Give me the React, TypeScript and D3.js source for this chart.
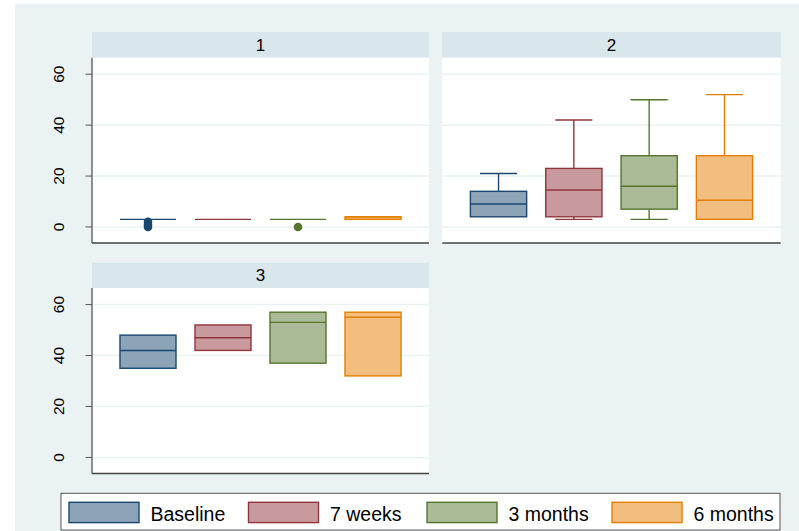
import React from "react";
import * as d3 from "d3";

const categories = ["Baseline", "7 weeks", "3 months", "6 months"];
const panelTitles = ["1", "2", "3"];
const yTicks = [0, 20, 40, 60];

// Panel 1
const p1Low = [3, 3, 3, 3];
const p1Q1 = [3, 3, 3, 3];
const p1Med = [3, 3, 3, 4];
const p1Q3 = [3, 3, 3, 4];
const p1High = [3, 3, 3, 4];
const p1Outliers = [[0, 1, 2], [], [0], []];

// Panel 2
const p2Low = [4, 3, 3, 3];
const p2Q1 = [4, 4, 7, 3];
const p2Med = [9, 14.5, 16, 10.5];
const p2Q3 = [14, 23, 28, 28];
const p2High = [21, 42, 50, 52];
const p2Outliers = [[], [], [], []];

// Panel 3
const p3Low = [35, 42, 37, 32];
const p3Q1 = [35, 42, 37, 32];
const p3Med = [42, 47, 53, 55];
const p3Q3 = [48, 52, 57, 57];
const p3High = [48, 52, 57, 57];
const p3Outliers = [[], [], [], []];

const strokeColors = ["#1a476f", "#90353b", "#55752f", "#e37e00"];
const fillColors = ["#8ca3b8", "#c89a9d", "#abba97", "#f1be80"];

const W = 799;
const H = 531;
const FONT = "'Liberation Sans', Arial, Helvetica, sans-serif";

type PanelDef = {
  title: string;
  x0: number;
  x1: number;
  stripTop: number;
  plotTop: number;
  plotBottom: number;
  showYAxis: boolean;
  low: number[];
  q1: number[];
  med: number[];
  q3: number[];
  high: number[];
  outliers: number[][];
};

const panels: PanelDef[] = [
  { title: panelTitles[0], x0: 92, x1: 429, stripTop: 32, plotTop: 57.7, plotBottom: 243, showYAxis: true,
    low: p1Low, q1: p1Q1, med: p1Med, q3: p1Q3, high: p1High, outliers: p1Outliers },
  { title: panelTitles[1], x0: 442.3, x1: 780.7, stripTop: 32, plotTop: 57.7, plotBottom: 243, showYAxis: false,
    low: p2Low, q1: p2Q1, med: p2Med, q3: p2Q3, high: p2High, outliers: p2Outliers },
  { title: panelTitles[2], x0: 92, x1: 429, stripTop: 262.7, plotTop: 288, plotBottom: 473.5, showYAxis: true,
    low: p3Low, q1: p3Q1, med: p3Med, q3: p3Q3, high: p3High, outliers: p3Outliers },
];

function Panel({ p }: { p: PanelDef }) {
  const x = d3.scaleBand<string>()
    .domain(categories)
    .range([p.x0, p.x1])
    .paddingInner(0.253)
    .paddingOuter(0.373);
  const y = d3.scaleLinear().domain([-6.3, 66.5]).range([p.plotBottom, p.plotTop]);
  const bw = x.bandwidth();
  const capW = bw * 0.66;
  const stripH = p.plotTop - p.stripTop;

  return (
    <g>
      <rect x={p.x0} y={p.stripTop} width={p.x1 - p.x0} height={stripH} fill="#d9e6eb" />
      <text x={(p.x0 + p.x1) / 2} y={p.stripTop + 18.5} textAnchor="middle" fontSize={17} fontFamily={FONT} fill="#000">
        {p.title}
      </text>
      <rect x={p.x0} y={p.plotTop} width={p.x1 - p.x0} height={p.plotBottom - p.plotTop} fill="#ffffff" />
      {yTicks.map((t) => (
        <line key={"g" + t} x1={p.x0} x2={p.x1} y1={y(t)} y2={y(t)} stroke="#eaf2f3" strokeWidth={1.5} />
      ))}
      {categories.map((c, i) => {
        const cx = (x(c) as number) + bw / 2;
        const bx = x(c) as number;
        const sc = strokeColors[i];
        return (
          <g key={c}>
            {p.high[i] > p.q3[i] && (
              <>
                <line x1={cx} x2={cx} y1={y(p.q3[i])} y2={y(p.high[i])} stroke={sc} strokeWidth={1.4} />
                <line x1={cx - capW / 2} x2={cx + capW / 2} y1={y(p.high[i])} y2={y(p.high[i])} stroke={sc} strokeWidth={1.4} />
              </>
            )}
            {p.low[i] < p.q1[i] && (
              <>
                <line x1={cx} x2={cx} y1={y(p.q1[i])} y2={y(p.low[i])} stroke={sc} strokeWidth={1.4} />
                <line x1={cx - capW / 2} x2={cx + capW / 2} y1={y(p.low[i])} y2={y(p.low[i])} stroke={sc} strokeWidth={1.4} />
              </>
            )}
            <rect
              x={bx}
              y={y(p.q3[i])}
              width={bw}
              height={Math.max(0, y(p.q1[i]) - y(p.q3[i]))}
              fill={fillColors[i]}
              stroke={sc}
              strokeWidth={1.4}
            />
            <line x1={bx} x2={bx + bw} y1={y(p.med[i])} y2={y(p.med[i])} stroke={sc} strokeWidth={1.4} />
            {p.outliers[i].map((o, k) => (
              <circle key={k} cx={cx} cy={y(o)} r={4.3} fill={sc} />
            ))}
          </g>
        );
      })}
      {/* axes */}
      <line x1={p.x0} x2={p.x1} y1={p.plotBottom} y2={p.plotBottom} stroke="#444" strokeWidth={1.3} />
      {p.showYAxis && (
        <g>
          <line x1={p.x0} x2={p.x0} y1={p.plotTop} y2={p.plotBottom} stroke="#555" strokeWidth={1.3} />
          {yTicks.map((t) => (
            <g key={"t" + t}>
              <line x1={p.x0 - 6.5} x2={p.x0} y1={y(t)} y2={y(t)} stroke="#555" strokeWidth={1} />
              <text
                transform={`translate(64,${y(t)}) rotate(-90)`}
                textAnchor="middle"
                fontSize={15.5}
                fontFamily={FONT}
                fill="#000"
              >
                {t}
              </text>
            </g>
          ))}
        </g>
      )}
    </g>
  );
}

const legendKeyX = [69, 248.5, 427, 612];

export default function App() {
  return (
    <svg
      width={W}
      height={H}
      style={{ position: "absolute", left: 0, top: 0, display: "block" }}
      xmlns="http://www.w3.org/2000/svg"
    >
      <rect x={0} y={0} width={W} height={H} fill="#ffffff" />
      <rect x={15} y={4} width={W - 15} height={H - 4} fill="#eaf2f3" />
      {panels.map((p) => (
        <Panel key={p.title} p={p} />
      ))}
      <rect x={61} y={493.3} width={719} height={36.7} fill="#ffffff" stroke="#555" strokeWidth={1} />
      {categories.map((c, i) => (
        <g key={c}>
          <rect x={legendKeyX[i]} y={502.3} width={70} height={20.3} fill={fillColors[i]} stroke={strokeColors[i]} strokeWidth={1.4} />
          <text x={legendKeyX[i] + 81.5} y={520.5} fontSize={19.5} fontFamily={FONT} fill="#000">
            {c}
          </text>
        </g>
      ))}
    </svg>
  );
}
